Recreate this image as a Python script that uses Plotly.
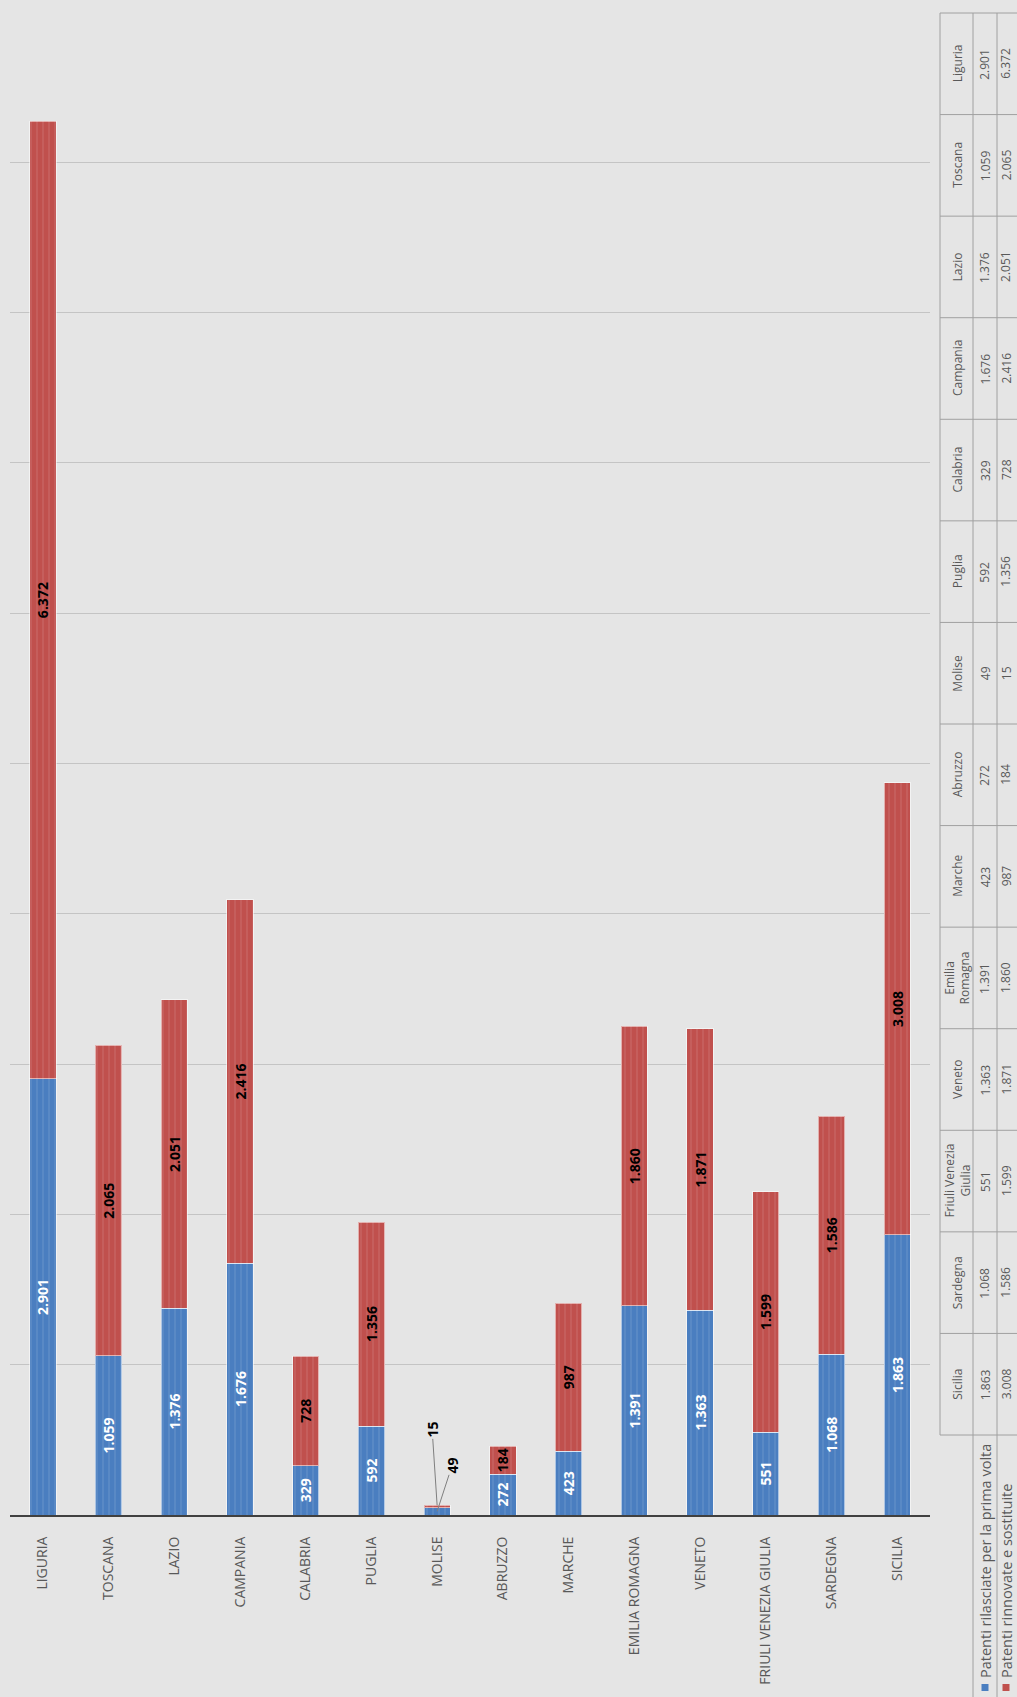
import plotly.graph_objects as go

# ---------------- data ----------------
categories = ["LIGURIA", "TOSCANA", "LAZIO", "CAMPANIA", "CALABRIA", "PUGLIA", "MOLISE",
              "ABRUZZO", "MARCHE", "EMILIA ROMAGNA", "VENETO", "FRIULI VENEZIA GIULIA",
              "SARDEGNA", "SICILIA"]
table_names = ["Liguria", "Toscana", "Lazio", "Campania", "Calabria", "Puglia", "Molise",
               "Abruzzo", "Marche", "Emilia<br>Romagna", "Veneto", "Friuli Venezia<br>Giulia",
               "Sardegna", "Sicilia"]
prima_volta = [2901, 1059, 1376, 1676, 329, 592, 49, 272, 423, 1391, 1363, 551, 1068, 1863]
rinnovate = [6372, 2065, 2051, 2416, 728, 1356, 15, 184, 987, 1860, 1871, 1599, 1586, 3008]
series_names = ["Patenti rilasciate per la prima volta", "Patenti rinnovate e sostituite"]
y_ticks = list(range(0, 10001, 1000))

# ---------------- layout constants ----------------
W, H = 1017, 1697
PL, PR, PT, PB = 10, 930, 12, 1515     # plot area in pixels
COLORS = ["#4a7ec0", "#c0504d"]
LABEL_COLORS = ["white", "black"]
GRAY_TXT = "#595959"
BG = "#e5e5e5"
FONT = "Open Sans"
SMALL = 100  # segments below this value get an outside label with leader line
OUT_OFFSETS = [(15, -46), (-5, -76)]


def fmt(v):
    return f"{v:,}".replace(",", ".")


def px2x(px):
    return (px - PL) / (PR - PL)


def py2y(py):
    return (PB - py) / (PB - PT)


fig = go.Figure()
series = [prima_volta, rinnovate]
for s, vals in enumerate(series):
    texts = [fmt(v) if v >= SMALL else "" for v in vals]
    fig.add_trace(go.Bar(
        x=categories, y=vals, name=series_names[s],
        text=texts, texttemplate="%{text}",
        textposition="inside", insidetextanchor="middle", textangle=-90,
        textfont=dict(family=FONT, size=14, color=LABEL_COLORS[s], weight="bold"),
        marker=dict(color=COLORS[s],
                    line=dict(color="rgba(255,255,255,0.55)", width=1),
                    pattern=dict(shape="|", fgcolor="rgba(255,255,255,0.22)",
                                 size=6, solidity=0.25)),
        width=0.4,
        hoverinfo="skip",
    ))

annotations = []
# outside labels for tiny segments
for s, vals in enumerate(series):
    for i, v in enumerate(vals):
        if v < SMALL:
            base = sum(series[k][i] for k in range(s))
            ax, ay = OUT_OFFSETS[s]
            annotations.append(dict(
                x=categories[i], y=base + v / 2 if s == 0 else base + v,
                xref="x", yref="y", text=fmt(v), textangle=-90,
                showarrow=True, arrowhead=0, arrowwidth=1, arrowcolor="#7f7f7f",
                ax=ax, ay=ay, standoff=0,
                font=dict(family=FONT, size=14, color="black", weight="bold"),
            ))

# ---------------- data table (rotated) ----------------
shapes = []
LINE = dict(color="#a0a0a0", width=1)
T_TOP, T_BOT = 13, 1435
X0, X1, X2, X3 = 940, 973, 997, 1022
n = len(categories)
cell = (T_BOT - T_TOP) / n
for k in range(n + 1):
    yy = py2y(T_TOP + k * cell)
    shapes.append(dict(type="line", xref="paper", yref="paper",
                       x0=px2x(X0), x1=px2x(X3), y0=yy, y1=yy, line=LINE))
shapes.append(dict(type="line", xref="paper", yref="paper",
                   x0=px2x(X0), x1=px2x(X0), y0=py2y(T_TOP), y1=py2y(T_BOT), line=LINE))
for xx in (X1, X2):
    shapes.append(dict(type="line", xref="paper", yref="paper",
                       x0=px2x(xx), x1=px2x(xx), y0=py2y(T_TOP), y1=py2y(H + 5), line=LINE))

col_x = [(X0 + X1) / 2 + 1, (X1 + X2) / 2, (X2 + 1017) / 2 - 1]
for i in range(n):
    cy = py2y(T_TOP + (i + 0.5) * cell)
    cells = [table_names[i], fmt(prima_volta[i]), fmt(rinnovate[i])]
    for c, txt in enumerate(cells):
        annotations.append(dict(
            x=px2x(col_x[c]), y=cy, xref="paper", yref="paper", text=txt,
            textangle=-90, showarrow=False, xanchor="center", yanchor="middle",
            font=dict(family=FONT, size=12, color=GRAY_TXT),
        ))

# legend cells
for s in range(2):
    cx = col_x[s + 1]
    shapes.append(dict(type="rect", xref="paper", yref="paper",
                       x0=px2x(cx - 3.5), x1=px2x(cx + 3.5),
                       y0=py2y(1691), y1=py2y(1684),
                       fillcolor=COLORS[s], line=dict(width=0)))
    annotations.append(dict(
        x=px2x(cx), y=py2y(1680), xref="paper", yref="paper",
        text=series_names[s], textangle=-90, showarrow=False,
        xanchor="center", yanchor="bottom",
        font=dict(family=FONT, size=14.5, color=GRAY_TXT),
    ))

fig.update_layout(
    width=W, height=H,
    margin=dict(l=PL, r=W - PR, t=PT, b=H - PB, pad=0),
    barmode="stack",
    paper_bgcolor=BG, plot_bgcolor=BG,
    separators=",.",
    showlegend=False,
    uniformtext=dict(mode="show", minsize=14),
    font=dict(family=FONT, color=GRAY_TXT),
    xaxis=dict(
        showline=True, linecolor="#404040", linewidth=2,
        tickangle=-90, ticks="outside", ticklen=14, tickcolor="rgba(0,0,0,0)",
        tickfont=dict(family=FONT, size=14, color=GRAY_TXT),
        showgrid=False, fixedrange=True,
    ),
    yaxis=dict(
        range=[0, 10000], tickvals=y_ticks, showticklabels=False,
        showgrid=True, gridcolor="#c4c4c4", gridwidth=1, zeroline=False,
        fixedrange=True,
    ),
    shapes=shapes,
    annotations=annotations,
)

fig.write_html(
    "out.html",
    config={"displayModeBar": False},
    post_script="document.body.style.margin='0';document.body.style.overflow='hidden';"
                "document.body.style.background='" + BG + "';",
)
